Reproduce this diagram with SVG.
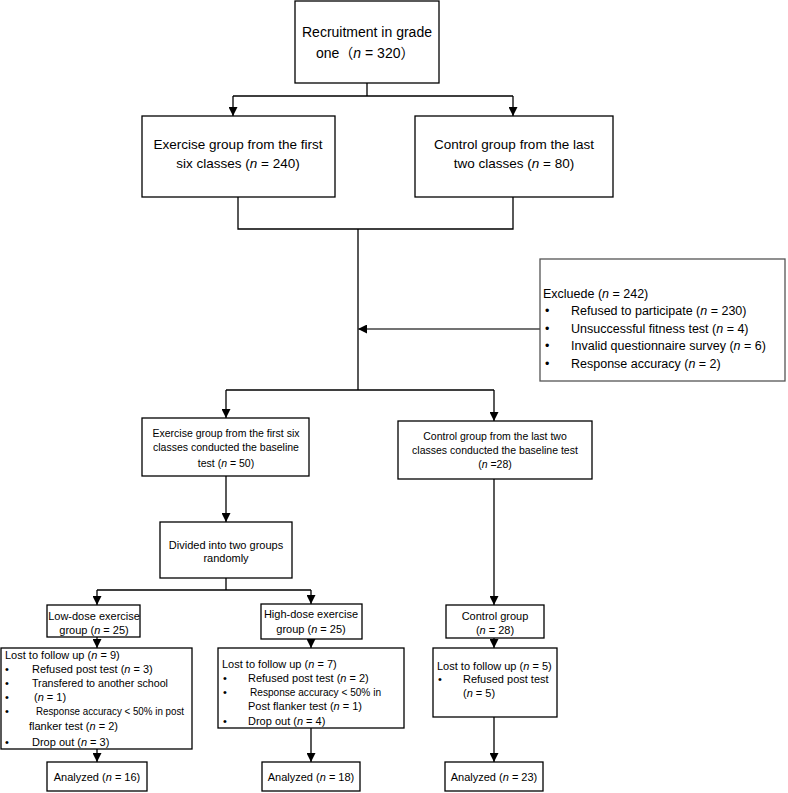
<svg xmlns="http://www.w3.org/2000/svg" width="788" height="793" viewBox="0 0 788 793">
<defs>
<style>
.box{fill:#fff;stroke:#000;stroke-width:1.3}
.gbox{fill:#fff;stroke:#555;stroke-width:1.3}
.ln{fill:none;stroke:#000;stroke-width:1.3}
.gln{fill:none;stroke:#444;stroke-width:1.3}
text{font-family:"Liberation Sans","Noto Sans CJK SC",sans-serif;fill:#000}
.t14{font-size:14px}
.t13{font-size:13.5px}
.t12{font-size:12.5px}
.t11{font-size:11px}
.t10{font-size:10.5px}
.m{text-anchor:middle}
</style>
<marker id="ah" viewBox="0 0 10 10" refX="10" refY="5" markerWidth="10" markerHeight="9" markerUnits="userSpaceOnUse" orient="auto">
<path d="M0,0 L10,5 L0,10 z" fill="#000"/>
</marker>
</defs>

<g id="connectors">
<path class="ln" d="M367,83 V96 M233,96 H513"/>
<path class="ln" d="M233,96 V116" marker-end="url(#ah)"/>
<path class="ln" d="M513,96 V116" marker-end="url(#ah)"/>
<path class="ln" d="M238,197 V229 H513 V197 M358,229 V390 M226,390 H494"/>
<path class="gln" d="M540,329 H358" marker-end="url(#ah)"/>
<path class="ln" d="M226,390 V418" marker-end="url(#ah)"/>
<path class="ln" d="M494,390 V421" marker-end="url(#ah)"/>
<path class="ln" d="M226,476 V522" marker-end="url(#ah)"/>
<path class="ln" d="M494,479 V605" marker-end="url(#ah)"/>
<path class="ln" d="M226,578 V590 M97,590 H311"/>
<path class="ln" d="M97,590 V605" marker-end="url(#ah)"/>
<path class="ln" d="M311,590 V604" marker-end="url(#ah)"/>
<path class="ln" d="M97,637 V648" marker-end="url(#ah)"/>
<path class="ln" d="M311,639 V648" marker-end="url(#ah)"/>
<path class="ln" d="M494,638 V648" marker-end="url(#ah)"/>
<path class="ln" d="M97,749 V762" marker-end="url(#ah)"/>
<path class="ln" d="M311,728 V762" marker-end="url(#ah)"/>
<path class="ln" d="M494,717 V762" marker-end="url(#ah)"/>
</g>

<g id="recruitment">
<rect class="box" x="295" y="1" width="144" height="82"/>
<text class="t14" x="302" y="37">Recruitment in grade</text>
<text class="t14" x="316" y="58">one（<tspan font-style="italic">n</tspan> = 320）</text>
</g>

<g id="exercise-group">
<rect class="box" x="142" y="116" width="193" height="81"/>
<text class="t13 m" x="238" y="149">Exercise group  from the first</text>
<text class="t13 m" x="238" y="168">six classes (<tspan font-style="italic">n</tspan> = 240)</text>
</g>

<g id="control-group">
<rect class="box" x="415" y="116" width="198" height="81"/>
<text class="t13 m" x="514" y="149">Control group  from the last</text>
<text class="t13 m" x="514" y="168">two classes (<tspan font-style="italic">n</tspan> = 80)</text>
</g>

<g id="excluded">
<rect class="gbox" x="540" y="259" width="245" height="122"/>
<text class="t12" x="543" y="298">Excluede (<tspan font-style="italic">n</tspan> = 242)</text>
<text class="t12" x="545" y="315">•</text><text class="t12" x="571" y="315">Refused to participate (<tspan font-style="italic">n</tspan> = 230)</text>
<text class="t12" x="545" y="333">•</text><text class="t12" x="571" y="333">Unsuccessful fitness test (<tspan font-style="italic">n</tspan> = 4)</text>
<text class="t12" x="545" y="350">•</text><text class="t12" x="571" y="350">Invalid questionnaire survey (<tspan font-style="italic">n</tspan> = 6)</text>
<text class="t12" x="545" y="368">•</text><text class="t12" x="571" y="368">Response accuracy (<tspan font-style="italic">n</tspan> = 2)</text>
</g>

<g id="exercise-baseline">
<rect class="box" x="142" y="418" width="167" height="58"/>
<text class="t10 m" x="226" y="437">Exercise group from the first six</text>
<text class="t10 m" x="226" y="451">classes  conducted the baseline</text>
<text class="t10 m" x="226" y="467">test (<tspan font-style="italic">n</tspan> = 50)</text>
</g>

<g id="control-baseline">
<rect class="box" x="398" y="421" width="194" height="58"/>
<text class="t10 m" x="495" y="440">Control group from the last two</text>
<text class="t10 m" x="495" y="454">classes conducted the baseline test</text>
<text class="t10 m" x="495" y="468">(<tspan font-style="italic">n</tspan> =28)</text>
</g>

<g id="divided">
<rect class="box" x="160" y="522" width="132" height="56"/>
<text class="t11 m" x="226" y="549">Divided into two groups</text>
<text class="t11 m" x="226" y="562">randomly</text>
</g>

<g id="low-dose">
<rect class="box" x="47" y="605" width="93" height="32"/>
<text class="t11 m" x="94" y="620">Low-dose exercise</text>
<text class="t11 m" x="94" y="634">group (<tspan font-style="italic">n</tspan> = 25)</text>
</g>

<g id="high-dose">
<rect class="box" x="261" y="604" width="101" height="35"/>
<text class="t11 m" x="311" y="618">High-dose exercise</text>
<text class="t11 m" x="311" y="633">group (<tspan font-style="italic">n</tspan> = 25)</text>
</g>

<g id="control">
<rect class="box" x="446" y="605" width="98" height="33"/>
<text class="t11 m" x="495" y="620">Control group</text>
<text class="t11 m" x="495" y="634">(<tspan font-style="italic">n</tspan> = 28)</text>
</g>

<g id="lost-low">
<rect class="box" x="1" y="648" width="191" height="101"/>
<text class="t11" x="5" y="659">Lost to follow up (<tspan font-style="italic">n</tspan> = 9)</text>
<text class="t11" x="5" y="673">•</text><text class="t11" x="32" y="673">Refused post test (<tspan font-style="italic">n</tspan> = 3)</text>
<text class="t11" x="5" y="687">•</text><text class="t11" x="32" y="687" textLength="136" lengthAdjust="spacingAndGlyphs">Transfered to another school</text>
<text class="t11" x="5" y="701">•</text><text class="t11" x="34" y="701">(<tspan font-style="italic">n</tspan> = 1)</text>
<text class="t11" x="5" y="715">•</text><text class="t11" x="36" y="715" textLength="148" lengthAdjust="spacingAndGlyphs">Response accuracy &lt; 50% in post</text>
<text class="t11" x="29" y="730">flanker test (<tspan font-style="italic">n</tspan> = 2)</text>
<text class="t11" x="5" y="746">•</text><text class="t11" x="32" y="746">Drop out (<tspan font-style="italic">n</tspan> = 3)</text>
</g>

<g id="lost-high">
<rect class="box" x="218" y="648" width="186" height="80"/>
<text class="t11" x="222" y="668">Lost to follow up (<tspan font-style="italic">n</tspan> = 7)</text>
<text class="t11" x="223" y="682">•</text><text class="t11" x="248" y="682">Refused post test (<tspan font-style="italic">n</tspan> = 2)</text>
<text class="t11" x="223" y="696">•</text><text class="t11" x="250" y="696" textLength="131" lengthAdjust="spacingAndGlyphs">Response accuracy &lt; 50% in</text>
<text class="t11" x="248" y="710">Post flanker test (<tspan font-style="italic">n</tspan> = 1)</text>
<text class="t11" x="223" y="725">•</text><text class="t11" x="248" y="725">Drop out (<tspan font-style="italic">n</tspan> = 4)</text>
</g>

<g id="lost-control">
<rect class="box" x="433" y="648" width="124" height="69"/>
<text class="t11" x="437" y="670">Lost to follow up (<tspan font-style="italic">n</tspan> = 5)</text>
<text class="t11" x="438" y="683">•</text><text class="t11" x="463" y="683">Refused post test</text>
<text class="t11" x="463" y="697">(<tspan font-style="italic">n</tspan> = 5)</text>
</g>

<g id="analyzed-low">
<rect class="box" x="47" y="762" width="100" height="29"/>
<text class="t11 m" x="97" y="781">Analyzed (<tspan font-style="italic">n</tspan> = 16)</text>
</g>

<g id="analyzed-high">
<rect class="box" x="262" y="762" width="98" height="29"/>
<text class="t11 m" x="311" y="781">Analyzed (<tspan font-style="italic">n</tspan> = 18)</text>
</g>

<g id="analyzed-control">
<rect class="box" x="445" y="762" width="98" height="29"/>
<text class="t11 m" x="494" y="781">Analyzed (<tspan font-style="italic">n</tspan> = 23)</text>
</g>
</svg>
